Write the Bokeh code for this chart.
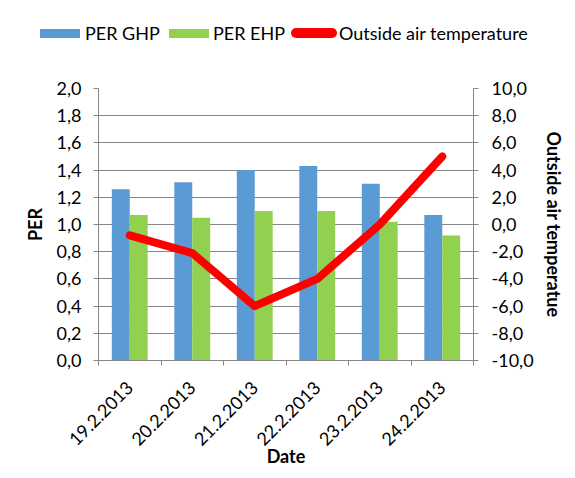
import math
from bokeh.plotting import figure
from bokeh.layouts import column
from bokeh.models import (ColumnDataSource, Range1d, LinearAxis, FixedTicker,
                          CustomJSTickFormatter, Div)
from bokeh.transform import dodge
from bokeh.embed import file_html
from bokeh.resources import INLINE

# ---- data ----
dates = ["19.2.2013", "20.2.2013", "21.2.2013", "22.2.2013", "23.2.2013", "24.2.2013"]
per_ghp = [1.26, 1.31, 1.40, 1.43, 1.30, 1.07]
per_ehp = [1.07, 1.05, 1.10, 1.10, 1.02, 0.92]
temperature = [-0.8, -2.1, -6.0, -4.0, 0.0, 5.0]
per_ticks = [0.0, 0.2, 0.4, 0.6, 0.8, 1.0, 1.2, 1.4, 1.6, 1.8, 2.0]
temp_ticks = [-10, -8, -6, -4, -2, 0, 2, 4, 6, 8, 10]
series_names = ["PER GHP", "PER EHP", "Outside air temperature"]

FONT = "Lato"
GRID = "#868686"
BLUE = "#5B9BD5"
GREEN = "#92D050"
RED = "#FF0000"

W = 567
LEG_H = 76
MAIN_H = 470 - LEG_H

xs = list(range(len(dates)))
src = ColumnDataSource(dict(x=xs, ghp=per_ghp, ehp=per_ehp, temp=temperature))

p = figure(width=W, height=MAIN_H, output_backend="svg", toolbar_location=None,
           x_range=Range1d(-0.5, len(dates) - 0.5), y_range=Range1d(0, 2),
           min_border_left=98, min_border_right=92, min_border_top=12,
           min_border_bottom=106)
p.extra_y_ranges = {"temp": Range1d(-10, 10)}
p.outline_line_color = None
p.background_fill_color = "white"
p.border_fill_color = "white"

w = 0.287
p.vbar(x=dodge("x", -w / 2, range=p.x_range), top="ghp", width=w,
       source=src, fill_color=BLUE, line_color=None)
p.vbar(x=dodge("x", w / 2, range=p.x_range), top="ehp", width=w,
       source=src, fill_color=GREEN, line_color=None)
p.line(x="x", y="temp", source=src, y_range_name="temp",
       line_color=RED, line_width=8, line_cap="round", line_join="round")

fmt = CustomJSTickFormatter(code="return tick.toFixed(1).replace('.', ',');")

# x axis
xa = p.xaxis[0]
xa.ticker = FixedTicker(ticks=xs, minor_ticks=[i - 0.5 for i in range(len(dates) + 1)])
xa.major_label_overrides = {i: d for i, d in enumerate(dates)}
xa.major_label_orientation = math.pi / 4
xa.major_tick_line_color = None
xa.major_tick_in = 0
xa.major_tick_out = 0
xa.minor_tick_line_color = GRID
xa.minor_tick_in = 0
xa.minor_tick_out = 5
xa.axis_line_color = GRID
xa.axis_label = "Date"
xa.major_label_standoff = 19

# left axis
ya = p.yaxis[0]
ya.ticker = FixedTicker(ticks=per_ticks)
ya.formatter = fmt
ya.axis_label = "PER"
ya.major_tick_in = 0
ya.major_tick_out = 5
ya.minor_tick_line_color = None
ya.axis_line_color = GRID
ya.major_tick_line_color = GRID
ya.major_label_standoff = 12

# right axis
ra = LinearAxis(y_range_name="temp", ticker=FixedTicker(ticks=temp_ticks),
                formatter=fmt, axis_label="Outside air temperatue")
ra.major_tick_in = 0
ra.major_tick_out = 5
ra.minor_tick_line_color = None
ra.axis_line_color = GRID
ra.major_tick_line_color = GRID
ra.major_label_standoff = 13
p.add_layout(ra, "right")

for ax in (xa, ya, ra):
    ax.major_label_text_font = FONT
    ax.major_label_text_font_size = "18px"
    ax.major_label_text_color = "black"
    ax.axis_label_text_font = FONT
    ax.axis_label_text_font_size = "18px"
    ax.axis_label_text_font_style = "bold"
    ax.axis_label_text_color = "black"
    ax.axis_label_standoff = 8
xa.axis_label_standoff = -9
ra.axis_label_standoff = 6

p.xgrid.grid_line_color = None
p.ygrid.grid_line_color = GRID
p.ygrid.ticker = FixedTicker(ticks=per_ticks)

# ---- legend strip above the plot area ----
swatches = [
    (40, 29, 40, 9, BLUE, 0),
    (169, 29, 40, 9, GREEN, 0),
    (291, 28, 46, 10, RED, 5),
]
text_left = [85, 213, 339]
parts = []
for (sx, sy, sw, sh, col, rad), tx, name in zip(swatches, text_left, series_names):
    parts.append(
        f'<span style="position:absolute;left:{sx}px;top:{sy}px;width:{sw}px;'
        f'height:{sh}px;background:{col};border-radius:{rad}px;"></span>')
    parts.append(
        f'<span style="position:absolute;left:{tx}px;top:22px;line-height:22px;'
        f'white-space:nowrap;">{name}</span>')
html = (f'<div style="position:relative;width:{W}px;height:{LEG_H}px;'
        f'font-family:{FONT};font-size:18px;color:black;">' + "".join(parts) + '</div>')
leg = Div(text=html, width=W, height=LEG_H, margin=0)

layout = column(leg, p, spacing=0)
open("out.html", "w").write(file_html(layout, INLINE))
